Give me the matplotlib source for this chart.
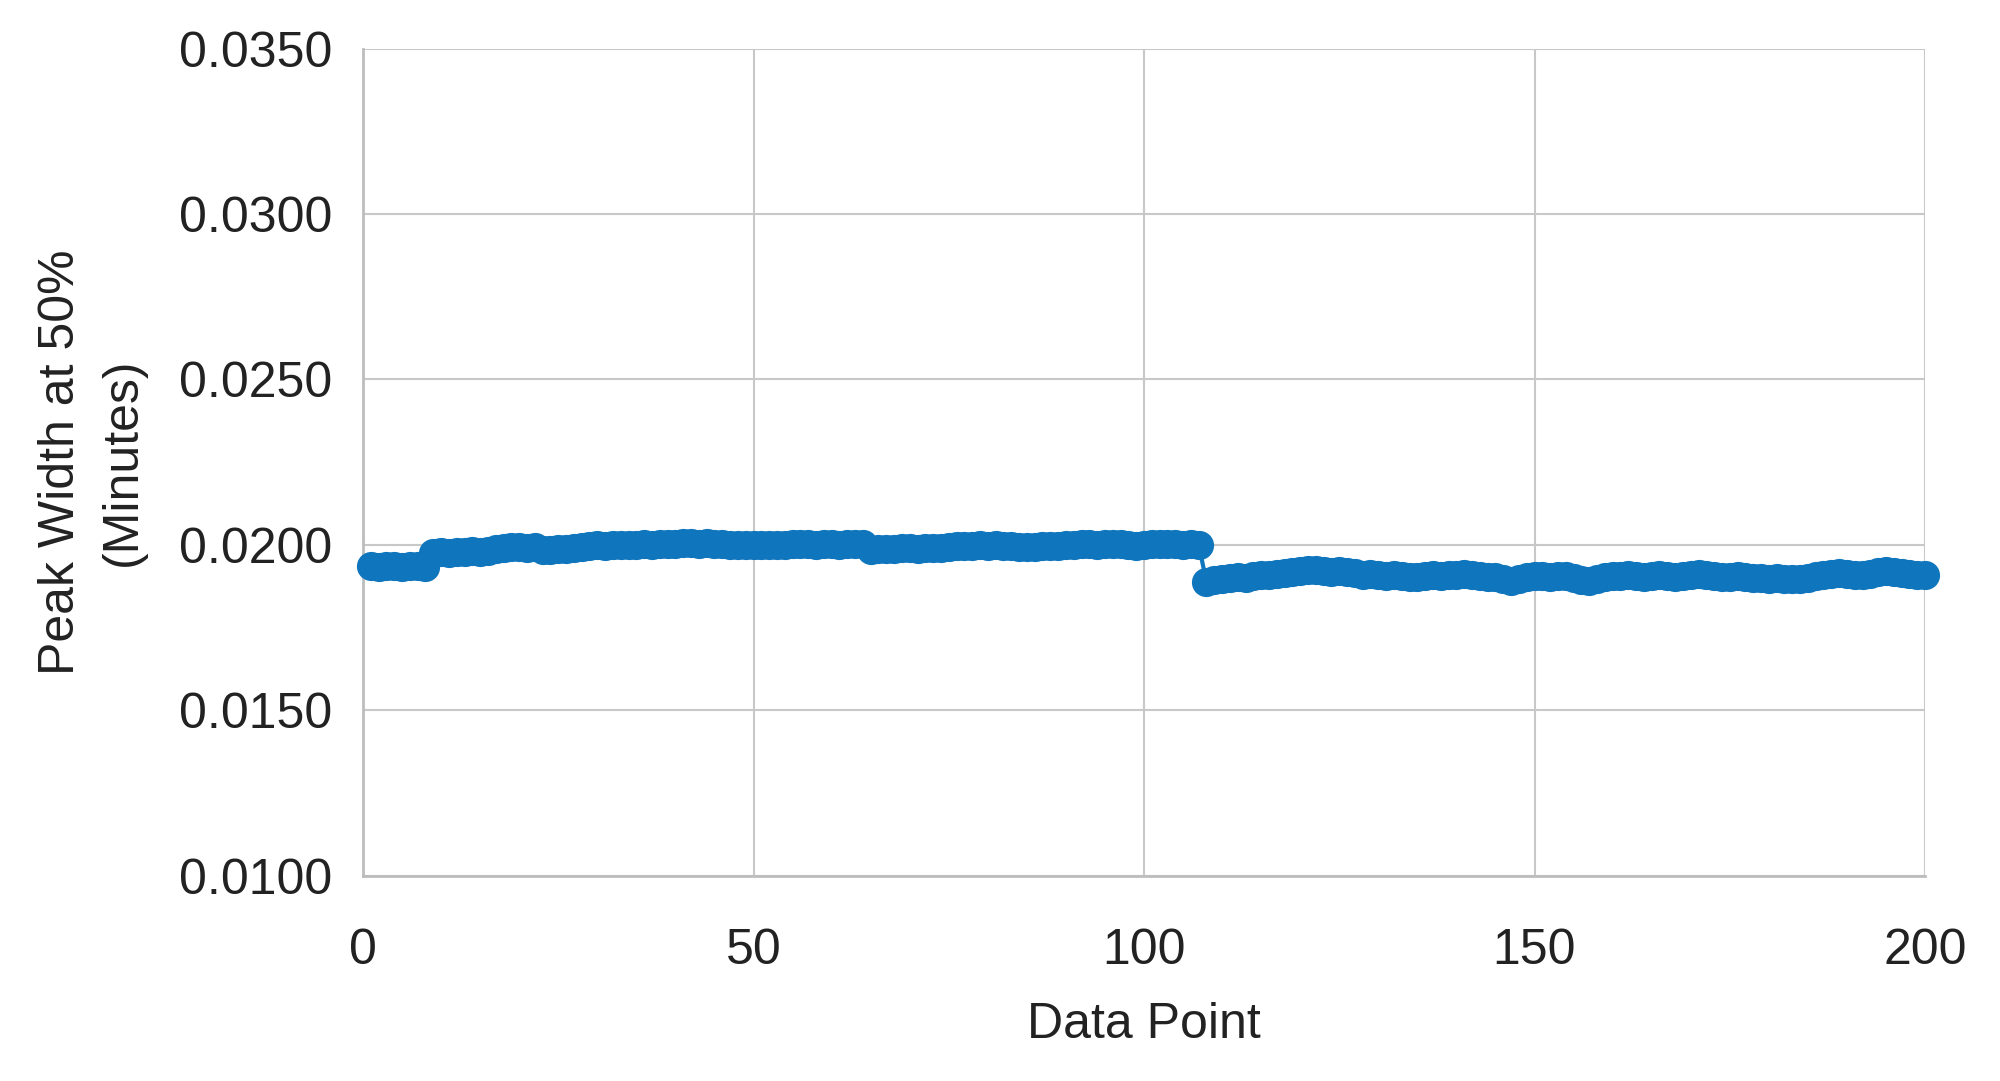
import matplotlib
matplotlib.use('Agg')
import matplotlib.pyplot as plt

# Data point index and peak width at 50% height (minutes)
data_point = list(range(1, 201))
peak_width = [
    0.01935, 0.01934, 0.01936, 0.01935, 0.01934, 0.01936, 0.01935, 0.01933,
    0.01975, 0.01978, 0.01976, 0.01979, 0.01978, 0.01980, 0.01979, 0.01981,
    0.01986, 0.01991, 0.01994, 0.01993, 0.01990, 0.01992,
    0.01985, 0.01983, 0.01986, 0.01988, 0.01990, 0.01992,
    0.01996, 0.01998, 0.01997, 0.01999, 0.01998, 0.02000, 0.01999, 0.02001, 0.02000, 0.02002, 0.02003, 0.02004,
    0.02005, 0.02006, 0.02004, 0.02005, 0.02003, 0.02002, 0.02000, 0.01999, 0.02000, 0.01998,
    0.01999, 0.02000, 0.01998, 0.02000, 0.02001, 0.02002, 0.02001, 0.02000, 0.02002, 0.02001, 0.02000, 0.02002, 0.02003, 0.02001,
    0.01985, 0.01986, 0.01988, 0.01987, 0.01989, 0.01990, 0.01988, 0.01991, 0.01990, 0.01989, 0.01992,
    0.01995, 0.01997, 0.01996, 0.01998, 0.01997, 0.01999, 0.01996, 0.01995, 0.01993, 0.01994, 0.01992, 0.01995, 0.01996, 0.01997, 0.01998,
    0.02000, 0.02002, 0.02001, 0.01999, 0.02003, 0.02004, 0.02001, 0.01998, 0.01996, 0.01999, 0.02002, 0.02001, 0.02003, 0.02002, 0.02000, 0.02001, 0.02000,
    0.01888, 0.01893, 0.01897, 0.01900, 0.01903, 0.01901, 0.01906, 0.01908, 0.01910, 0.01913, 0.01915, 0.01918, 0.01920,
    0.01923, 0.01925, 0.01922, 0.01918, 0.01920, 0.01917, 0.01914, 0.01910, 0.01912, 0.01909,
    0.01907, 0.01910, 0.01906, 0.01904, 0.01902, 0.01905, 0.01908, 0.01907, 0.01910, 0.01909,
    0.01911, 0.01908, 0.01906, 0.01904, 0.01902, 0.01896, 0.01892, 0.01898, 0.01903, 0.01905,
    0.01906, 0.01904, 0.01907, 0.01905, 0.01901, 0.01895, 0.01890, 0.01896, 0.01902, 0.01905,
    0.01907, 0.01909, 0.01906, 0.01904, 0.01906, 0.01908, 0.01905, 0.01903, 0.01906, 0.01909,
    0.01911, 0.01908, 0.01905, 0.01902, 0.01904, 0.01906, 0.01903, 0.01901, 0.01899, 0.01897,
    0.01899, 0.01896, 0.01898, 0.01897, 0.01900,
    0.01905, 0.01910, 0.01913, 0.01915, 0.01912, 0.01910, 0.01908, 0.01912, 0.01917, 0.01920,
    0.01918, 0.01914, 0.01911, 0.01910, 0.01910,
]

x_ticks = [0, 50, 100, 150, 200]
y_ticks = [0.0100, 0.0150, 0.0200, 0.0250, 0.0300, 0.0350]

plt.rcParams['font.family'] = ['Liberation Sans', 'DejaVu Sans']

fig = plt.figure(figsize=(20, 10.81), dpi=100)
ax = fig.add_axes([0.1815, 0.19, 0.781, 0.765])

# markers at the ends hang over the plot edge in the original, so no clipping
ax.plot(data_point, peak_width, color='#0F75BC', linewidth=3,
        marker='o', markersize=21, markeredgewidth=0, zorder=3, clip_on=False)

ax.set_xlim(0, 200)
ax.set_ylim(0.0100, 0.0350)
ax.set_xticks(x_ticks)
ax.set_yticks(y_ticks)
ax.set_yticklabels([f'{v:.4f}' for v in y_ticks])

ax.grid(True, color='#C8C8C8', linewidth=1.5)
ax.set_axisbelow(True)
for side in ['top', 'right']:
    ax.spines[side].set_visible(False)
for side in ['left', 'bottom']:
    ax.spines[side].set_color('#BDBDBD')
    ax.spines[side].set_linewidth(2)

ax.tick_params(axis='both', length=0, labelsize=36, colors='#222222')
ax.tick_params(axis='x', pad=38)
ax.tick_params(axis='y', pad=22)

ax.set_xlabel('Data Point', fontsize=36, color='#222222', labelpad=20)
ax.set_ylabel('Peak Width at 50%\n(Minutes)', fontsize=36, color='#222222',
              labelpad=24, linespacing=1.45)

fig.savefig('out.png', dpi=100)
